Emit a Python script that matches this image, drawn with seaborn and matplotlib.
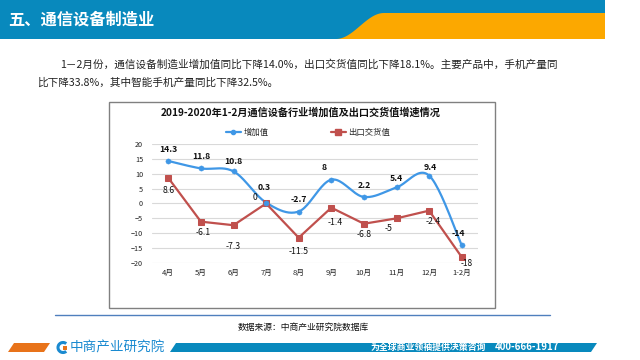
import numpy as np
import matplotlib
matplotlib.use("Agg")
import matplotlib.pyplot as plt
from matplotlib.patches import Rectangle, Polygon, Arc
from matplotlib.lines import Line2D
import seaborn as sns

sns.set_style("white")
plt.rcParams['font.family'] = ['Noto Sans CJK SC', 'DejaVu Sans']

# Data
months = ["4月", "5月", "6月", "7月", "8月", "9月", "10月", "11月", "12月", "1-2月"]
added_value = [14.3, 11.8, 10.8, 0.3, -2.7, 8, 2.2, 5.4, 9.4, -14]
export_value = [8.6, -6.1, -7.3, 0, -11.5, -1.4, -6.8, -5, -2.4, -18]
blue_labels = ["14.3", "11.8", "10.8", "0.3", "-2.7", "8", "2.2", "5.4", "9.4", "-14"]
red_labels = ["8.6", "-6.1", "-7.3", "0", "-11.5", "-1.4", "-6.8", "-5", "-2.4", "-18"]

BLUE = "#3f97e6"
RED = "#c0504d"
HEAD_BLUE = "#0889bd"
HEAD_ORANGE = "#fca800"


def bezier_smooth(xs, ys, n=24):
    # excel-style smoothed line through the points
    p = np.column_stack([xs, ys]).astype(float)
    ext = np.vstack([p[0], p, p[-1]])
    out = []
    for i in range(len(p) - 1):
        p0, p1 = ext[i + 1], ext[i + 2]
        c1 = p0 + (ext[i + 2] - ext[i]) / 6
        c2 = p1 - (ext[i + 3] - ext[i + 1]) / 6
        t = np.linspace(0, 1, n)[:, None]
        seg = (1 - t) ** 3 * p0 + 3 * (1 - t) ** 2 * t * c1 + 3 * (1 - t) * t ** 2 * c2 + t ** 3 * p1
        out.append(seg if i == 0 else seg[1:])
    seg = np.vstack(out)
    return seg[:, 0], seg[:, 1]


fig = plt.figure(figsize=(6.4, 3.6), dpi=100)

# page background in pixel coordinates
bg = fig.add_axes([0, 0, 1, 1])
bg.set_xlim(0, 640)
bg.set_ylim(360, 0)
bg.axis("off")

# header
bg.add_patch(Rectangle((0, 0), 605, 39, color=HEAD_BLUE, lw=0))
t = np.linspace(0, 1, 40)
wx = 336 + 48 * t
wy = 39 - 26 * (1 - np.cos(np.pi * t)) / 2
bg.add_patch(Polygon(np.column_stack([np.r_[wx, 605, 605], np.r_[wy, 13, 39]]),
                     closed=True, color=HEAD_ORANGE, lw=0))
bg.text(8, 20, "五、通信设备制造业", color="white", fontsize=11.7, fontweight="bold",
        va="center", ha="left")

# paragraph
bg.text(60, 65, "1－2月份，通信设备制造业增加值同比下降14.0%，出口交货值同比下降18.1%。主要产品中，手机产量同",
        fontsize=7.65, va="center", ha="left", color="#222222")
bg.text(37, 83, "比下降33.8%，其中智能手机产量同比下降32.5%。",
        fontsize=7.65, va="center", ha="left", color="#222222")

# chart frame
bg.add_patch(Rectangle((109, 102), 386, 206, fill=False, ec="#808080", lw=1))
bg.text(301, 113, "2019-2020年1-2月通信设备行业增加值及出口交货值增速情况",
        fontsize=7.3, fontweight="bold", ha="center", va="center", color="#111111")

# source line
bg.plot([55, 550], [315, 315], color="#4f7fbd", lw=1)
bg.text(303, 327, "数据来源：中商产业研究院数据库", fontsize=6.3, ha="center", va="center", color="#111111")

# footer
bg.add_patch(Polygon([(8, 352), (14, 343), (50, 343), (44, 352)], color="#e8731a", lw=0))
bg.add_patch(Polygon([(170, 352), (176, 343), (597, 343), (591, 352)], color=HEAD_BLUE, lw=0))
bg.add_patch(Arc((63, 347.5), 10, 10, theta1=50, theta2=310, color="#1a8ad0", lw=2.2))
bg.add_patch(Rectangle((63, 345.5), 4, 4, color="#e8731a", lw=0))
bg.text(70, 347.5, "中商产业研究院", fontsize=9.8, color="#1a8ad0", ha="left", va="center")
bg.text(371, 347.5, "为全球商业领袖提供决策咨询", fontsize=6.4, fontweight="bold", color="white",
        ha="left", va="center")
bg.text(495, 347.5, "400-666-1917", fontsize=7, fontweight="bold", color="white", ha="left", va="center")

# chart
ax = fig.add_axes([152 / 640, 1 - 263 / 360, 326 / 640, 119 / 360])
ax.set_facecolor("none")
x = np.arange(len(months))

sx, sy = bezier_smooth(x, added_value)
sns.lineplot(x=sx, y=sy, sort=False, color=BLUE, lw=1.6, ax=ax, zorder=3)
sns.scatterplot(x=x, y=added_value, color=BLUE, s=14, marker="o", edgecolor=BLUE, ax=ax, zorder=4)
sns.lineplot(x=x, y=export_value, color=RED, lw=1.6, marker="s", markersize=5,
             markeredgecolor=RED, ax=ax, zorder=3)

ax.set_xlim(-0.5, 9.5)
ax.set_ylim(-20, 20)
ax.set_yticks(range(-20, 25, 5))
ax.set_xticks(x)
ax.set_xticklabels(months)
ax.yaxis.grid(True, color="#d9d9d9", lw=0.8)
ax.xaxis.grid(False)
ax.set_axisbelow(True)
for s in ax.spines.values():
    s.set_visible(False)
ax.tick_params(axis="y", length=0, pad=6.5, labelsize=5.2, labelcolor="#222222")
ax.tick_params(axis="x", length=0, pad=4.3, labelsize=5.5, labelcolor="#222222")
ax.set_xlabel("")
ax.set_ylabel("")

# label offsets in pixels (dx, dy)
blue_off = [(0, 11), (0, 12), (0, 10), (-2, 15), (0, 12), (-7, 12), (0, 11), (0, 9), (1, 8), (-3, 12)]
red_off = [(0, -13), (2, -11), (0, -21), (-11, 6), (0, -14), (4, -15), (0, -11), (-8, -10), (4, -11), (5, -6)]
for i in range(len(months)):
    ax.annotate(blue_labels[i], (x[i], added_value[i]), xytext=blue_off[i], textcoords="offset pixels",
                ha="center", va="center", fontsize=6.3, fontweight="bold", color="#111111",
                annotation_clip=False, zorder=5)
    ax.annotate(red_labels[i], (x[i], export_value[i]), xytext=red_off[i], textcoords="offset pixels",
                ha="center", va="center", fontsize=6.0 if i == len(months) - 1 else 6.3, color="#111111",
                annotation_clip=False, zorder=5)

handles = [Line2D([], [], color=BLUE, lw=1.6, marker="o", markersize=3),
           Line2D([], [], color=RED, lw=1.6, marker="s", markersize=4)]
fig.legend(handles, ["增加值", "出口交货值"], loc="center", bbox_to_anchor=(308 / 640, 1 - 132 / 360),
           ncol=2, frameon=False, fontsize=6, handlelength=1.8, handletextpad=0.3, columnspacing=7.5)

fig.savefig("out.png", dpi=100)
